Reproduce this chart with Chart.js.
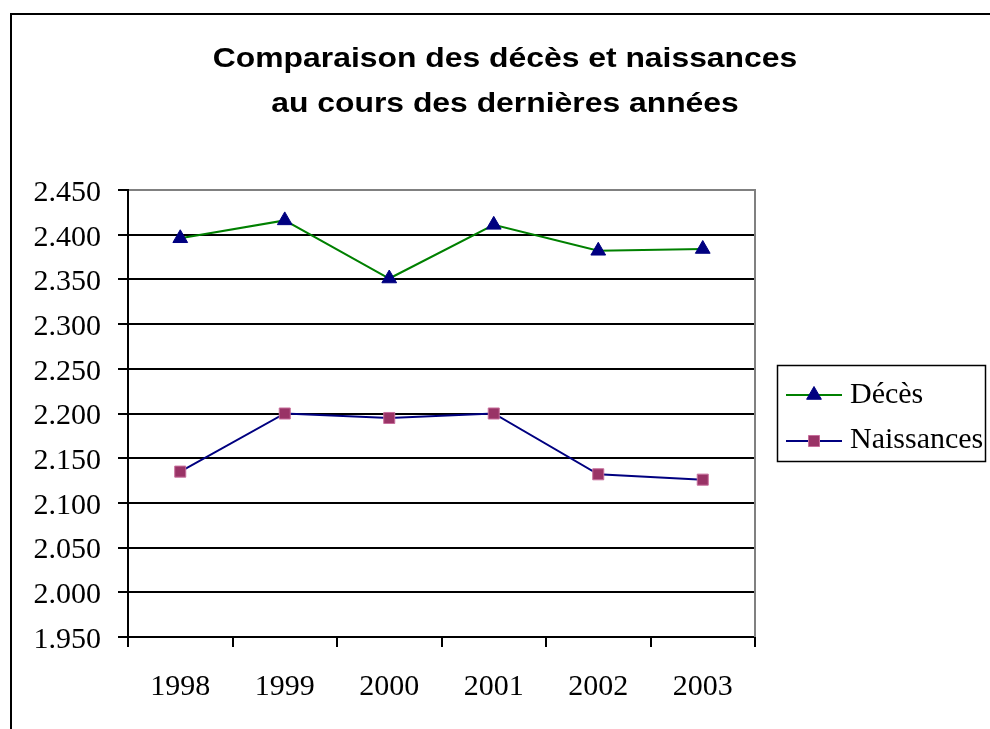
<!DOCTYPE html>
<html>
<head>
<meta charset="utf-8">
<script src="https://cdn.jsdelivr.net/npm/chart.js@4.4.0/dist/chart.umd.min.js"></script>
<style>
html,body{margin:0;padding:0;background:#fff;}
#wrap{position:relative;width:990px;height:729px;overflow:hidden;}
canvas{display:block;}
</style>
</head>
<body>
<div id="wrap"><canvas id="c" width="990" height="729"></canvas></div>
<script>
// ---- data ----
const years = ['1998', '1999', '2000', '2001', '2002', '2003'];
const deces = [2396, 2416, 2351, 2411, 2382, 2384];
const naissances = [2135, 2200, 2195, 2200, 2132, 2126];
const seriesNames = ['Décès', 'Naissances'];
const titleLines = ['Comparaison des décès et naissances', 'au cours des dernières années'];
const yMin = 1950, yMax = 2450, yStep = 50;

function fmt(v) {
  const s = String(Math.round(v));
  return s.length > 3 ? s.slice(0, s.length - 3) + '.' + s.slice(-3) : s;
}

const decorPlugin = {
  id: 'decor',
  beforeDraw(chart) {
    const ctx = chart.ctx;
    ctx.save();
    ctx.fillStyle = '#fff';
    ctx.fillRect(0, 0, chart.width, chart.height);
    // outer chart border
    ctx.strokeStyle = '#000';
    ctx.lineWidth = 2;
    ctx.beginPath();
    ctx.moveTo(11, 740);
    ctx.lineTo(11, 14);
    ctx.lineTo(1000, 14);
    ctx.stroke();
    // title
    ctx.fillStyle = '#000';
    ctx.font = 'bold 27px "Liberation Sans", Arial, sans-serif';
    ctx.textAlign = 'center';
    ctx.textBaseline = 'alphabetic';
    const ys = [67, 112];
    titleLines.forEach((t, i) => {
      ctx.save();
      ctx.translate(505, ys[i]);
      ctx.scale(1.18, 1);
      ctx.fillText(t, 0, 0);
      ctx.restore();
    });
    ctx.restore();
  },
  afterDatasetsDraw(chart) {
    const ctx = chart.ctx;
    const a = chart.chartArea;
    ctx.save();
    // right plot border (gray)
    ctx.strokeStyle = '#808080';
    ctx.lineWidth = 2;
    ctx.beginPath();
    ctx.moveTo(a.right, a.top - 1);
    ctx.lineTo(a.right, a.bottom);
    ctx.stroke();
    // legend box
    ctx.strokeStyle = '#000';
    ctx.lineWidth = 1.5;
    ctx.strokeRect(777.5, 365.5, 208, 96);
    const rows = [395, 441];
    const baselines = [403, 448];
    chart.data.datasets.forEach((ds, i) => {
      const y = rows[i];
      ctx.strokeStyle = ds.borderColor;
      ctx.lineWidth = 2;
      ctx.beginPath();
      ctx.moveTo(786, y);
      ctx.lineTo(842, y);
      ctx.stroke();
      ctx.fillStyle = ds.pointBackgroundColor;
      ctx.strokeStyle = ds.pointBorderColor;
      ctx.lineWidth = ds.pointBorderWidth;
      Chart.helpers.drawPoint(ctx, {
        pointStyle: ds.pointStyle,
        radius: ds.pointRadius,
        borderWidth: ds.pointBorderWidth,
        rotation: 0
      }, 814, y);
      ctx.fillStyle = '#000';
      ctx.font = '30px "Liberation Serif", "Times New Roman", serif';
      ctx.textAlign = 'left';
      ctx.textBaseline = 'alphabetic';
      ctx.fillText(ds.label, 850, baselines[i]);
    });
    ctx.restore();
  }
};

new Chart(document.getElementById('c'), {
  type: 'line',
  data: {
    labels: years,
    datasets: [
      {
        label: seriesNames[0],
        data: deces,
        borderColor: '#008000',
        borderWidth: 2,
        pointStyle: 'triangle',
        pointRadius: 8.5,
        pointBackgroundColor: '#000080',
        pointBorderColor: '#000080',
        pointBorderWidth: 1,
        tension: 0
      },
      {
        label: seriesNames[1],
        data: naissances,
        borderColor: '#000080',
        borderWidth: 2,
        pointStyle: 'rect',
        pointRadius: 7.8,
        pointBackgroundColor: '#993366',
        pointBorderColor: '#c76d9b',
        pointBorderWidth: 1,
        tension: 0
      }
    ]
  },
  options: {
    responsive: false,
    animation: false,
    devicePixelRatio: 1,
    layout: { padding: { left: 0, top: 190, right: 235, bottom: 0 } },
    plugins: {
      legend: { display: false },
      title: { display: false },
      tooltip: { enabled: false }
    },
    scales: {
      x: {
        type: 'category',
        offset: true,
        grid: {
          offset: true,
          drawOnChartArea: false,
          drawTicks: true,
          tickLength: 10,
          color: '#000',
          lineWidth: 2
        },
        border: { display: true, color: '#000', width: 2 },
        ticks: {
          color: '#000',
          font: { family: '"Liberation Serif", "Times New Roman", serif', size: 30 },
          padding: 22,
          maxRotation: 0,
          autoSkip: false
        },
        afterFit(scale) { scale.height = 92; }
      },
      y: {
        min: yMin,
        max: yMax,
        grid: {
          color: (c) => (c.tick && c.tick.value === yMax) ? '#808080' : '#000',
          tickColor: '#000',
          lineWidth: 2,
          tickLength: 10,
          drawTicks: true
        },
        border: { display: true, color: '#000', width: 2 },
        ticks: {
          stepSize: yStep,
          color: '#000',
          font: { family: '"Liberation Serif", "Times New Roman", serif', size: 30 },
          padding: 17,
          labelOffset: 3,
          callback: (v) => fmt(v)
        },
        afterFit(scale) { scale.width = 128; }
      }
    }
  },
  plugins: [decorPlugin]
});
</script>
</body>
</html>
